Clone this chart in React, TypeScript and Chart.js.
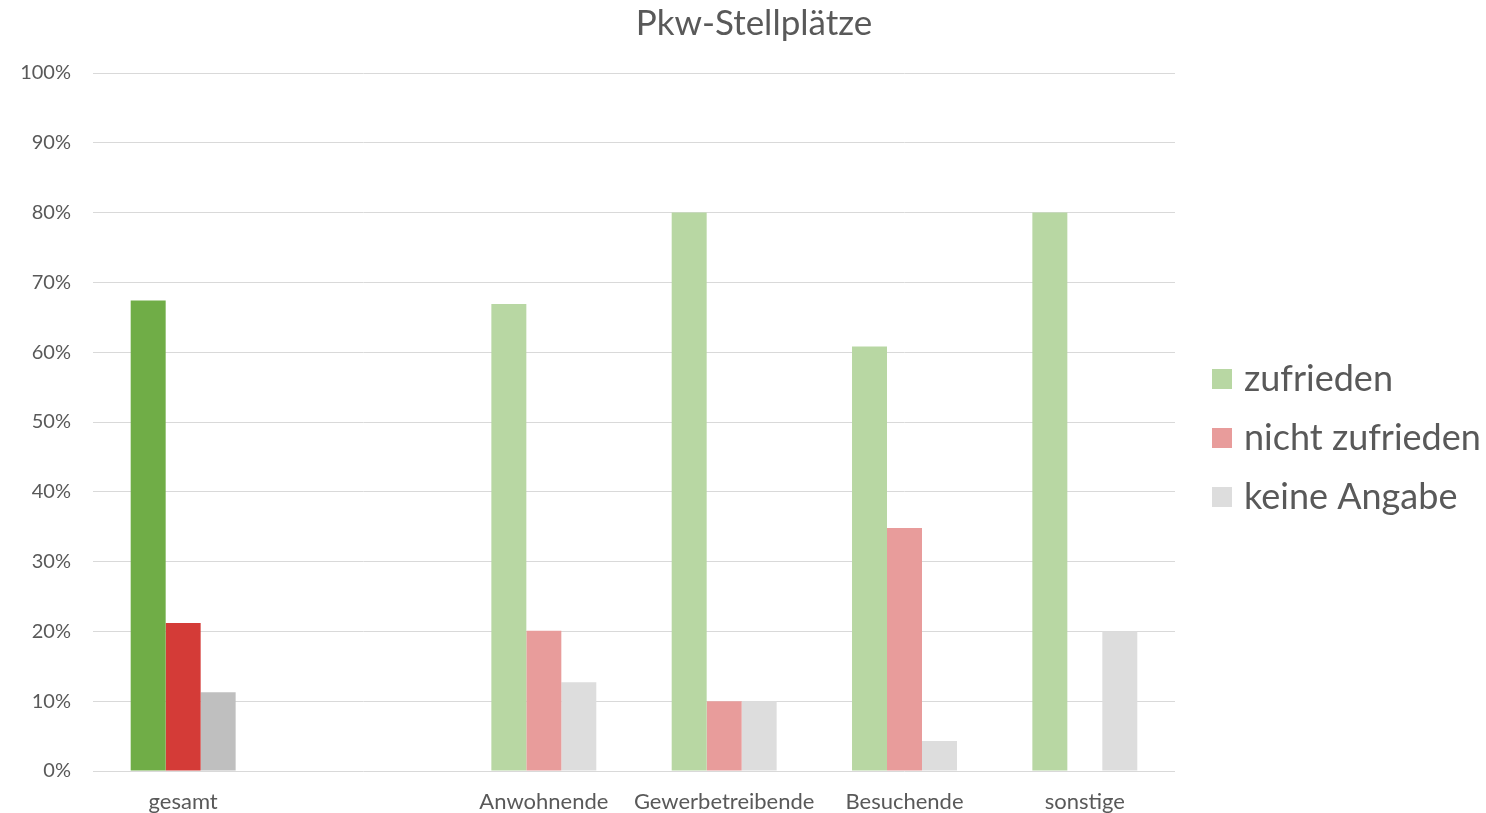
import React, { useEffect, useRef } from 'react';
import { Chart, registerables } from 'chart.js';

Chart.register(...registerables);

// Survey groups (the second slot is an intentional gap after "gesamt")
const categories = ['gesamt', '', 'Anwohnende', 'Gewerbetreibende', 'Besuchende', 'sonstige'];

// Shares in percent per answer
const zufrieden = [67.4, null, 66.9, 80, 60.8, 80];
const nichtZufrieden = [21.2, null, 20.1, 10, 34.8, 0];
const keineAngabe = [11.3, null, 12.7, 10, 4.3, 20];

const seriesNames = ['zufrieden', 'nicht zufrieden', 'keine Angabe'];
const titleText = 'Pkw-Stellplätze';

// Strong colours for the overall group, pale ones for the sub-groups
const strongColors = ['#70AD47', '#D43B37', '#BFBFBF'];
const paleColors = ['#B8D7A3', '#E89C9B', '#DDDDDD'];

const FONT = 'Lato, "Open Sans", sans-serif';
const TEXT = '#595959';

const colorsFor = (i: number) =>
  categories.map((_, idx) => (idx === 0 ? strongColors[i] : paleColors[i]));

// Draws the title and the legend on the right side
const decorPlugin = {
  id: 'decor',
  afterDraw(chart: any) {
    const ctx = chart.ctx as CanvasRenderingContext2D;
    ctx.save();
    ctx.fillStyle = TEXT;
    ctx.font = `35px ${FONT}`;
    ctx.textAlign = 'center';
    ctx.textBaseline = 'middle';
    ctx.fillText(titleText, 754, 24);

    const rowY = [379, 438, 497];
    chart.data.datasets.forEach((ds: any, i: number) => {
      ctx.fillStyle = paleColors[i];
      ctx.fillRect(1212, rowY[i] - 10, 20, 20);
      ctx.fillStyle = TEXT;
      ctx.font = `36px ${FONT}`;
      ctx.textAlign = 'left';
      ctx.textBaseline = 'middle';
      ctx.fillText(ds.label, 1244, rowY[i]);
    });
    ctx.restore();
  },
};

export default function App() {
  const canvasRef = useRef<HTMLCanvasElement | null>(null);

  useEffect(() => {
    if (!canvasRef.current) return;
    const chart = new Chart(canvasRef.current, {
      type: 'bar',
      data: {
        labels: categories,
        datasets: [zufrieden, nichtZufrieden, keineAngabe].map((values, i) => ({
          label: seriesNames[i],
          data: values,
          backgroundColor: colorsFor(i),
          borderWidth: 0,
          barPercentage: 1,
          categoryPercentage: 0.582,
        })),
      },
      options: {
        animation: false,
        responsive: true,
        maintainAspectRatio: false,
        layout: { padding: { top: 73, right: 311, bottom: 0, left: 0 } },
        plugins: {
          legend: { display: false },
          title: { display: false },
          tooltip: { enabled: false },
        },
        scales: {
          x: {
            grid: { display: false, drawTicks: false },
            border: { display: false },
            ticks: {
              color: TEXT,
              font: { family: FONT, size: 22 },
              padding: 18,
              maxRotation: 0,
              autoSkip: false,
            },
            afterFit: (scale: any) => {
              scale.height = 42;
            },
          },
          y: {
            min: 0,
            max: 100,
            grid: { color: '#D9D9D9', lineWidth: 1, drawTicks: false },
            border: { display: false },
            ticks: {
              stepSize: 10,
              color: TEXT,
              font: { family: FONT, size: 20 },
              padding: 22,
              callback: (v: any) => `${v}%`,
            },
            afterFit: (scale: any) => {
              scale.width = 93;
            },
          },
        },
      },
      plugins: [decorPlugin],
    });
    return () => chart.destroy();
  }, []);

  return (
    <div style={{ position: 'absolute', left: 0, top: 0, width: 1486, height: 813, background: '#fff' }}>
      <canvas ref={canvasRef} />
    </div>
  );
}
